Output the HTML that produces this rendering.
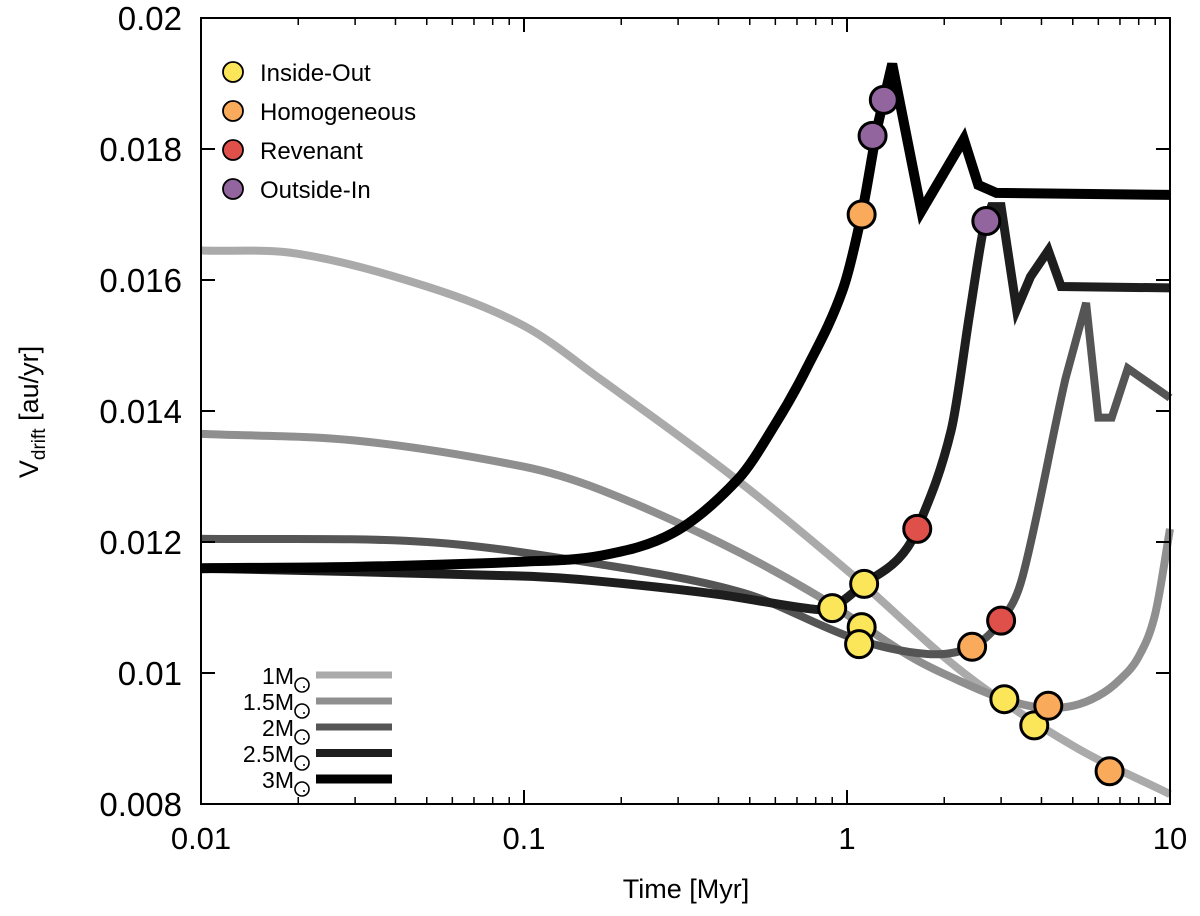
<!DOCTYPE html>
<html><head><meta charset="utf-8"><style>
body{margin:0;background:#fff;}
svg{display:block;font-family:"Liberation Sans",sans-serif;}
</style></head><body>
<svg id="chart" width="1200" height="916" viewBox="0 0 1200 916">
<g id="series"></g>
<g id="markers"></g>
<g id="axes"></g>
<text x="686" y="898" font-size="27" text-anchor="middle">Time [Myr]</text>
<text transform="translate(38,412) rotate(-90)" font-size="27" text-anchor="middle">V<tspan font-size="19" dy="7">drift</tspan><tspan dy="-7"> [au/yr]</tspan></text>
<g id="legend-top"></g>
<g id="legend-bottom"></g>
</svg>
<script>
const xTicks=[0.01,0.1,1,10];
const xTickLabels=["0.01","0.1","1","10"];
const yTicks=[0.008,0.01,0.012,0.014,0.016,0.018,0.02];
const yTickLabels=["0.008","0.01","0.012","0.014","0.016","0.018","0.02"];
const seriesNames=["1M","1.5M","2M","2.5M","3M"];
const s1=[[0.01,.01645],[0.02,.0164],[0.05,.0159],[0.1,.0153],[0.172,.01449],[0.44,.01301],[1.05,.01148],[2.3,.0100],[5,.00889],[10,.00815]];
const s15=[[0.01,.01365],[0.03,.01355],[0.1,.01315],[0.172,.0128],[0.4,.0120],[0.81,.01118],[1.56,.01026],[2.3,.00985],[3.07,.0096],[4,.00947],[5,.0095],[6,.00965],[7,.0099],[8,.01025],[9,.0109],[10,.0122]];
const s2=[[0.01,.01205],[0.05,.0120],[0.172,.01166],[0.48,.01122],[1.05,.01053],[1.77,.01029],[2.44,.0104],[3,.0108],[3.5,.01148],[4.75,.0145],[5.5,.01565],[6,.0139],[6.6,.0139],[7.4,.01465],[10,.0142]];
const s25=[[0.01,.0116],[0.1,.01148],[0.172,.0114],[0.4,.0112],[0.77,.01098],[0.9,.011],[1.13,.01136],[1.44,.01174],[1.65,.0122],[2.1,.0137],[2.4,.0155],[2.65,.0168],[2.8,.01712],[3.0,.01712],[3.35,.01555],[3.7,.01605],[4.2,.01645],[4.6,.0159],[10,.01588]];
const s3=[[0.01,.0116],[0.03,.01162],[0.1,.0117],[0.172,.01179],[0.29,.01214],[0.46,.01296],[0.6,.0138],[0.75,.01465],[0.97,.01585],[1.11,.0170],[1.25,.0184],[1.38,.0193],[1.7,.01705],[2.3,.01815],[2.55,.01745],[2.9,.01733],[10,.0173]];
const insideOut=[[0.9,.01099],[1.13,.01136],[1.11,.0107],[1.09,.01044],[3.07,.0096],[3.8,.0092]];
const homogeneous=[[1.11,.0170],[2.44,.0104],[4.2,.0095],[6.5,.0085]];
const revenant=[[1.65,.0122],[3.0,.0108]];
const outsideIn=[[1.2,.0182],[1.3,.01875],[2.7,.0169]];

const NS="http://www.w3.org/2000/svg";
const X0=201,X1=1170,Y0=804,Y1=18;
const xs=t=>X0+Math.log10(t/0.01)/3*(X1-X0);
const ys=v=>Y0-(v-0.008)/0.012*(Y0-Y1);
function mk(tag,attrs,parent){const e=document.createElementNS(NS,tag);for(const k in attrs)e.setAttribute(k,attrs[k]);parent.appendChild(e);return e;}
function pathFor(s,smoothUpTo){
  const p=s.map(d=>[xs(d[0]),ys(d[1])]);
  let d="M"+p[0][0].toFixed(1)+","+p[0][1].toFixed(1);
  for(let i=0;i<p.length-1;i++){
    if(i+1<=smoothUpTo){
      const p0=p[Math.max(0,i-1)],p1=p[i],p2=p[i+1],p3=p[Math.min(p.length-1,i+2)];
      const h=p2[0]-p1[0];
      const m1=(p2[1]-p0[1])/((p2[0]-p0[0])||1), m2=(p3[1]-p1[1])/((p3[0]-p1[0])||1);
      const c1=[p1[0]+h/3,p1[1]+m1*h/3];
      const c2=[p2[0]-h/3,p2[1]-m2*h/3];
      d+=" C"+c1[0].toFixed(1)+","+c1[1].toFixed(1)+" "+c2[0].toFixed(1)+","+c2[1].toFixed(1)+" "+p2[0].toFixed(1)+","+p2[1].toFixed(1);
    } else d+=" L"+p[i+1][0].toFixed(1)+","+p[i+1][1].toFixed(1);
  }
  return d;
}

const gs=document.getElementById('series');
const allSeries=[s1,s15,s2,s25,s3];
const smoothTo=[99,99,9,11,10];
const colors=["#aaaaaa","#8f8f8f","#555555","#1e1e1e","#000000"];
const widths=[8,8,8,9,10];
allSeries.forEach((s,i)=>{
  const p=mk('path',{d:pathFor(s,smoothTo[i]),fill:"none",stroke:colors[i],"stroke-width":widths[i],"stroke-linejoin":"miter","stroke-miterlimit":"4"},gs);
  
  
});

const gm=document.getElementById('markers');
const mSets=[[insideOut,"#fbe65a","inside-out"],[homogeneous,"#f9aa5a","homogeneous"],[revenant,"#e0504a","revenant"],[outsideIn,"#93659e","outside-in"]];
mSets.forEach(([arr,c,n])=>arr.forEach(d=>{
  const e=mk('circle',{cx:xs(d[0]),cy:ys(d[1]),r:13.5,fill:c,stroke:"#000","stroke-width":3},gm);
  
  
}));

const ga=document.getElementById('axes');
const fr=mk('rect',{x:X0,y:Y1,width:X1-X0,height:Y0-Y1,fill:"none",stroke:"#000","stroke-width":2},ga);


xTicks.forEach((t,i)=>{
  const x=xs(t);
  mk('line',{x1:x,x2:x,y1:Y0,y2:Y0-14,stroke:"#000","stroke-width":2},ga);
  mk('line',{x1:x,x2:x,y1:Y1,y2:Y1+14,stroke:"#000","stroke-width":2},ga);
  const l=mk('text',{x:x,y:Y0+45,"font-size":31,"text-anchor":"middle"},ga);
  l.textContent=xTickLabels[i];
  
  
  if(i<xTicks.length-1){for(let m=2;m<=9;m++){const xm=xs(t*m);
    mk('line',{x1:xm,x2:xm,y1:Y0,y2:Y0-7,stroke:"#000","stroke-width":1.5},ga);
    mk('line',{x1:xm,x2:xm,y1:Y1,y2:Y1+7,stroke:"#000","stroke-width":1.5},ga);}}
});
yTicks.forEach((v,i)=>{
  const y=ys(v);
  mk('line',{x1:X0,x2:X0+14,y1:y,y2:y,stroke:"#000","stroke-width":2},ga);
  mk('line',{x1:X1,x2:X1-14,y1:y,y2:y,stroke:"#000","stroke-width":2},ga);
  const l=mk('text',{x:X0-19,y:y+12,"font-size":33,"text-anchor":"end"},ga);
  l.textContent=yTickLabels[i];
  
  
});

const lt=document.getElementById('legend-top');
[["Inside-Out","#fbe65a"],["Homogeneous","#f9aa5a"],["Revenant","#e0504a"],["Outside-In","#93659e"]].forEach((d,i)=>{
  const y=72+i*39;
  const c=mk('circle',{cx:233,cy:y,r:10,fill:d[1],stroke:"#000","stroke-width":1.8},lt);
  
  
  const t=mk('text',{x:260,y:y+9,"font-size":24},lt);
  t.textContent=d[0];
  
  
});
const lb=document.getElementById('legend-bottom');
["1","1.5","2","2.5","3"].forEach((m,i)=>{
  const y=675+i*26;
  const t=mk('text',{x:294,y:y+9,"font-size":23,"text-anchor":"end"},lb);
  t.textContent=m+"M";
  
  
  mk('circle',{cx:302,cy:y+10,r:7,fill:"none",stroke:"#000","stroke-width":1.6},lb);
  mk('circle',{cx:304,cy:y+12,r:1,fill:"#000"},lb);
  const l=mk('line',{x1:316,x2:392,y1:y,y2:y,stroke:colors[i],"stroke-width":widths[i]-1},lb);
  
  
});
</script>
</body></html>
